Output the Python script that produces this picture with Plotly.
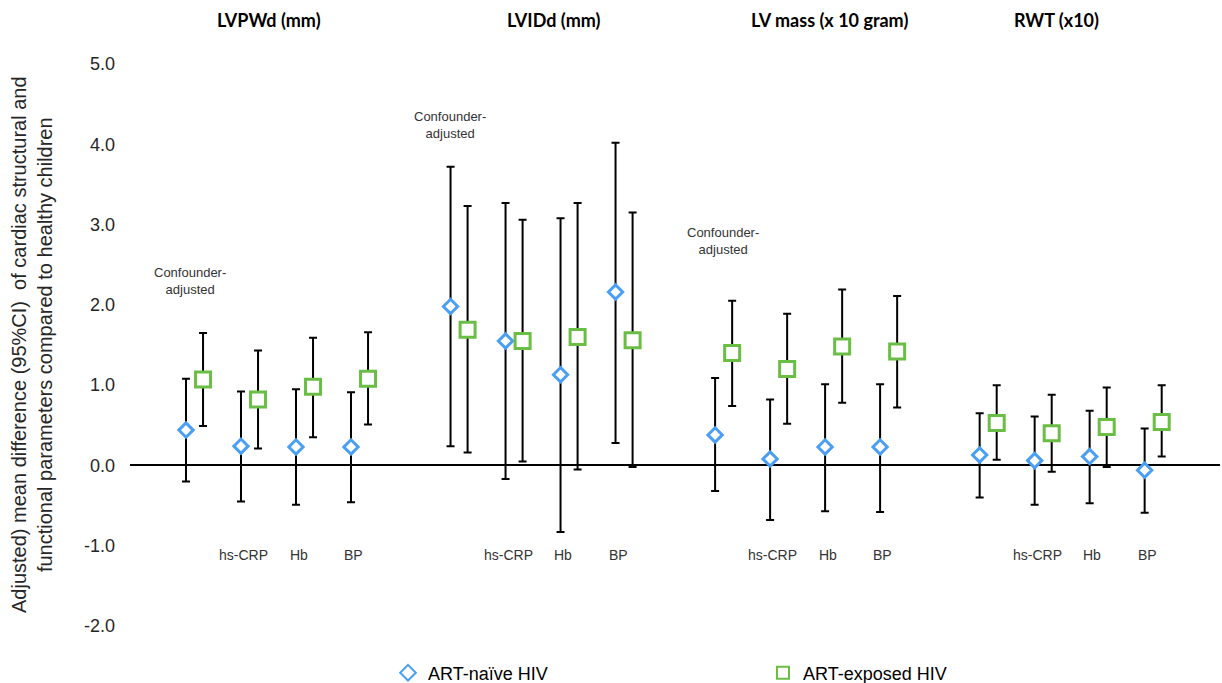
import plotly.graph_objects as go

# ---------------- data ----------------
groups = ["LVPWd (mm)", "LVIDd (mm)", "LV mass (x 10 gram)", "RWT (x10)"]
models = ["Confounder-adjusted", "hs-CRP", "Hb", "BP"]
model_labels = ["", "hs-CRP", "Hb", "BP"]

naive_mean = [0.44, 0.24, 0.23, 0.23, 1.98, 1.55, 1.13, 2.16, 0.38, 0.08, 0.23, 0.23, 0.13, 0.06, 0.11, -0.06]
naive_lo = [-0.20, -0.45, -0.49, -0.46, 0.24, -0.17, -0.83, 0.28, -0.32, -0.68, -0.57, -0.58, -0.40, -0.49, -0.47, -0.59]
naive_hi = [1.08, 0.92, 0.95, 0.91, 3.72, 3.27, 3.08, 4.02, 1.09, 0.82, 1.01, 1.01, 0.65, 0.61, 0.68, 0.46]

exposed_mean = [1.07, 0.82, 0.98, 1.08, 1.69, 1.55, 1.60, 1.56, 1.40, 1.20, 1.48, 1.42, 0.53, 0.40, 0.48, 0.54]
exposed_lo = [0.49, 0.21, 0.35, 0.51, 0.16, 0.05, -0.05, -0.02, 0.74, 0.52, 0.78, 0.72, 0.07, -0.08, -0.02, 0.11]
exposed_hi = [1.65, 1.43, 1.59, 1.66, 3.23, 3.06, 3.27, 3.15, 2.05, 1.89, 2.19, 2.11, 1.00, 0.88, 0.97, 1.00]

y_ticks = [-2.0, -1.0, 0.0, 1.0, 2.0, 3.0, 4.0, 5.0]
y_tick_labels = ["-2.0", "-1.0", "0.0", "1.0", "2.0", "3.0", "4.0", "5.0"]

# ---------------- layout helpers ----------------
GROUP_STEP = 4.81
PAIR_OFFSET = 0.31
x_naive = [g * GROUP_STEP + i for g in range(len(groups)) for i in range(len(models))]
x_exposed = [x + PAIR_OFFSET for x in x_naive]

BLUE = "#4a9ff5"
GREEN = "#6abd45"
TEXT = "#262626"

fig = go.Figure()

fig.add_trace(go.Scatter(
    x=x_naive, y=naive_mean, mode="markers", name="ART-naïve HIV",
    marker=dict(symbol="diamond", size=11, color="white", line=dict(color=BLUE, width=3)),
    error_y=dict(type="data", symmetric=False,
                 array=[h - m for h, m in zip(naive_hi, naive_mean)],
                 arrayminus=[m - l for m, l in zip(naive_mean, naive_lo)],
                 color="black", thickness=2, width=4),
))
fig.add_trace(go.Scatter(
    x=x_exposed, y=exposed_mean, mode="markers", name="ART-exposed HIV",
    marker=dict(symbol="square", size=15, color="white", line=dict(color=GREEN, width=3)),
    error_y=dict(type="data", symmetric=False,
                 array=[h - m for h, m in zip(exposed_hi, exposed_mean)],
                 arrayminus=[m - l for m, l in zip(exposed_mean, exposed_lo)],
                 color="black", thickness=2, width=4),
))

annotations = []

# group titles
title_x = [0.1275, 0.389, 0.642, 0.850]
for gx, name in zip(title_x, groups):
    annotations.append(dict(text="<b>" + name + "</b>", x=gx, y=1.078, xref="paper", yref="paper",
                            showarrow=False, xanchor="center", yanchor="middle",
                            font=dict(family="Lato, Open Sans, sans-serif", size=18, color="black")))

# model labels below the axis
for g in range(len(groups)):
    for i in range(1, len(models)):
        annotations.append(dict(text=model_labels[i], x=x_naive[g * 4 + i] + 0.05, y=-1.11,
                                xref="x", yref="y", showarrow=False,
                                font=dict(family="Liberation Sans, Arial", size=14, color="#333333")))

# confounder-adjusted notes
conf_pos = [(0.073, 2.30), (4.80, 4.24), (9.76, 2.80)]
for cx, cy in conf_pos:
    annotations.append(dict(text="Confounder-<br>adjusted", x=cx, y=cy, xref="x", yref="y",
                            showarrow=False, align="center",
                            font=dict(family="Liberation Sans, Arial", size=13, color="#333333")))

# y-axis title
annotations.append(dict(
    text="Adjusted) mean difference (95%CI)\u00a0 of cardiac structural and<br>functional parameters compared to healthy children",
    x=-0.0899, y=0.5, xref="paper", yref="paper", textangle=-90, showarrow=False,
    xanchor="center", yanchor="middle", align="center",
    font=dict(family="Liberation Sans, Arial", size=20, color=TEXT)))

fig.update_layout(
    width=1222, height=683,
    margin=dict(l=130, r=2, t=64, b=57, autoexpand=False),
    paper_bgcolor="white", plot_bgcolor="white",
    font=dict(family="Liberation Sans, Arial", color=TEXT),
    xaxis=dict(range=[-1.018, 18.8], showticklabels=False, showgrid=False, zeroline=False,
               showline=False, ticks=""),
    yaxis=dict(range=[-2, 5], tickvals=y_ticks, ticktext=y_tick_labels, showgrid=False,
               zeroline=True, zerolinecolor="black", zerolinewidth=1.5, showline=False,
               ticks="", ticklabelstandoff=14, tickfont=dict(size=18, color=TEXT)),
    showlegend=True,
    legend=dict(orientation="h", x=(388 - 130) / 1090, xanchor="left", y=-(673 - 626) / 562,
                yanchor="middle",
                entrywidth=330, entrywidthmode="pixels", itemsizing="constant",
                font=dict(family="Liberation Sans, Arial", size=18, color="black")),
    annotations=annotations,
)

fig.write_html("out.html", config={"displayModeBar": False},
               post_script="document.body.style.margin='0';")
